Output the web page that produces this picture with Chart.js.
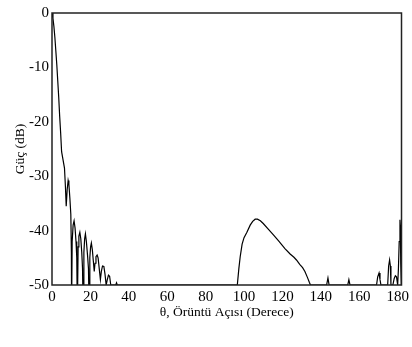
<!DOCTYPE html>
<html>
<head>
<meta charset="utf-8">
<script src="https://cdn.jsdelivr.net/npm/chart.js@4.4.1/dist/chart.umd.min.js"></script>
<style>
  html, body { margin: 0; padding: 0; background: #fff; }
  #wrap { width: 412px; height: 347px; position: relative; }
</style>
</head>
<body>
<div id="wrap"><canvas id="grafico"></canvas></div>
<script>
// Ana lob + yan loblar (0-35 derece)
const anaLobTeta = [0, 0.5, 1, 1.5, 2, 2.5, 3, 3.5, 4, 4.5, 5, 5.5, 6.0, 6.5, 7.0, 7.4, 7.9, 8.4, 8.8, 9.3, 9.8, 10.1, 10.2, 10.5, 11.0, 11.5, 12.0, 12.5, 12.9, 13.2, 13.6, 14.0, 14.5, 15.0, 15.5, 15.9, 16.2, 16.6, 17.0, 17.4, 17.9, 18.5, 19.0, 19.3, 19.7, 20.1, 20.5, 21.0, 21.5, 22.0, 22.4, 22.9, 23.5, 24.0, 24.6, 25.2, 25.7, 26.3, 27.0, 27.6, 28.2, 28.8, 29.4, 30.0, 30.6, 33.2, 33.6, 34.0];
const anaLobGuc  = [0, -1, -2.5, -4.5, -7, -9.5, -12.5, -15.5, -19, -22, -25.5, -26.5, -27.5, -28.5, -32, -35.5, -32.5, -30.8, -31.5, -34, -37, -44, -55, -42, -39, -38.2, -39.5, -42, -45, -55, -43, -41, -40.3, -41.5, -44, -47, -55, -44, -41.5, -40.6, -42, -44.5, -47, -55, -45, -43, -42.3, -43.5, -45.5, -47.5, -46, -44.8, -44.5, -45, -47, -49, -47.5, -46.5, -46.6, -48, -50, -49, -48.2, -48.4, -50, -50, -49.6, -50];

// Geri lob (95-135 derece)
const geriLobTeta = [96.5, 96.7, 97.3, 98, 99, 100, 101.5, 103.2, 104.5, 105.8, 107, 108.5, 110, 112.5, 115.3, 118, 121.3, 124, 126, 127.3, 129, 130.5, 131.7, 133, 134, 134.6];
const geriLobGuc  = [-50, -50, -47, -44.8, -42.5, -41.3, -40.3, -39, -38.3, -37.9, -37.9, -38.2, -38.7, -39.7, -40.8, -41.9, -43.3, -44.3, -44.9, -45.4, -46.2, -46.8, -47.5, -48.6, -49.5, -50];

// Uc bolge (140-182 derece)
const ucTeta = [143, 143.7, 144.3, 154, 154.6, 155.2, 169, 169.6, 170.3, 170.8, 171.3, 174.8, 175.3, 175.8, 176.2, 176.5, 177.5, 178.2, 178.8, 179.4, 180, 180.4, 180.8, 181.2, 181.4, 181.6, 181.9];
const ucGuc  = [-50, -48.7, -50, -50, -49, -50, -50, -48.5, -47.8, -49, -50, -50, -46.5, -45.4, -46.5, -50, -50, -48.8, -48.3, -48.5, -50, -47, -42, -38, -39, -46, -50];

const xEtiketleri = [0, 20, 40, 60, 80, 100, 120, 140, 160, 180];
const yEtiketleri = [-50, -40, -30, -20, -10, 0];

const teta = [...anaLobTeta, ...geriLobTeta, ...ucTeta];
const guc = [...anaLobGuc, ...geriLobGuc, ...ucGuc];
const puntos = teta.map((t, i) => ({ x: t, y: guc[i] }));

const fuente = "'Times New Roman', 'Liberation Serif', serif";

// cerceve (4 kenar)
const cerceve = {
  id: "cerceve",
  afterDatasetsDraw(chart) {
    const { ctx, chartArea: a } = chart;
    ctx.save();
    ctx.strokeStyle = "#222";
    ctx.lineWidth = 1.5;
    ctx.strokeRect(a.left, a.top, a.right - a.left, a.bottom - a.top);
    ctx.restore();
  }
};

new Chart(document.getElementById("grafico"), {
  type: "line",
  data: {
    datasets: [{
      data: puntos,
      borderColor: "#000",
      borderWidth: 1.2,
      pointRadius: 0,
      tension: 0,
      fill: false
    }]
  },
  options: {
    responsive: true,
    maintainAspectRatio: false,
    animation: false,
    layout: { padding: { top: 13, right: 8, left: 0, bottom: 0 } },
    plugins: { legend: { display: false }, tooltip: { enabled: false } },
    scales: {
      x: {
        type: "linear",
        min: 0,
        max: 182,
        grid: { display: false, drawTicks: false },
        border: { display: false },
        afterBuildTicks: s => { s.ticks = xEtiketleri.map(v => ({ value: v })); },
        afterFit: s => { s.height = 62; },
        ticks: { color: "#000", padding: 3, maxRotation: 0, font: { family: fuente, size: 15 } },
        title: {
          display: true,
          text: "θ, Örüntü Açısı (Derece)",
          color: "#000",
          padding: { top: 0, bottom: 26 },
          font: { family: fuente, size: 13.5 }
        }
      },
      y: {
        type: "linear",
        min: -50,
        max: 0,
        grid: { display: false, drawTicks: false },
        border: { display: false },
        afterBuildTicks: s => { s.ticks = yEtiketleri.map(v => ({ value: v })); },
        afterFit: s => { s.width = 52; },
        ticks: { color: "#000", padding: 3, font: { family: fuente, size: 15 } },
        title: {
          display: true,
          text: "Güç (dB)",
          color: "#000",
          padding: { top: 12, bottom: 0 },
          font: { family: fuente, size: 13.5 }
        }
      }
    }
  },
  plugins: [cerceve]
});
</script>
</body>
</html>
